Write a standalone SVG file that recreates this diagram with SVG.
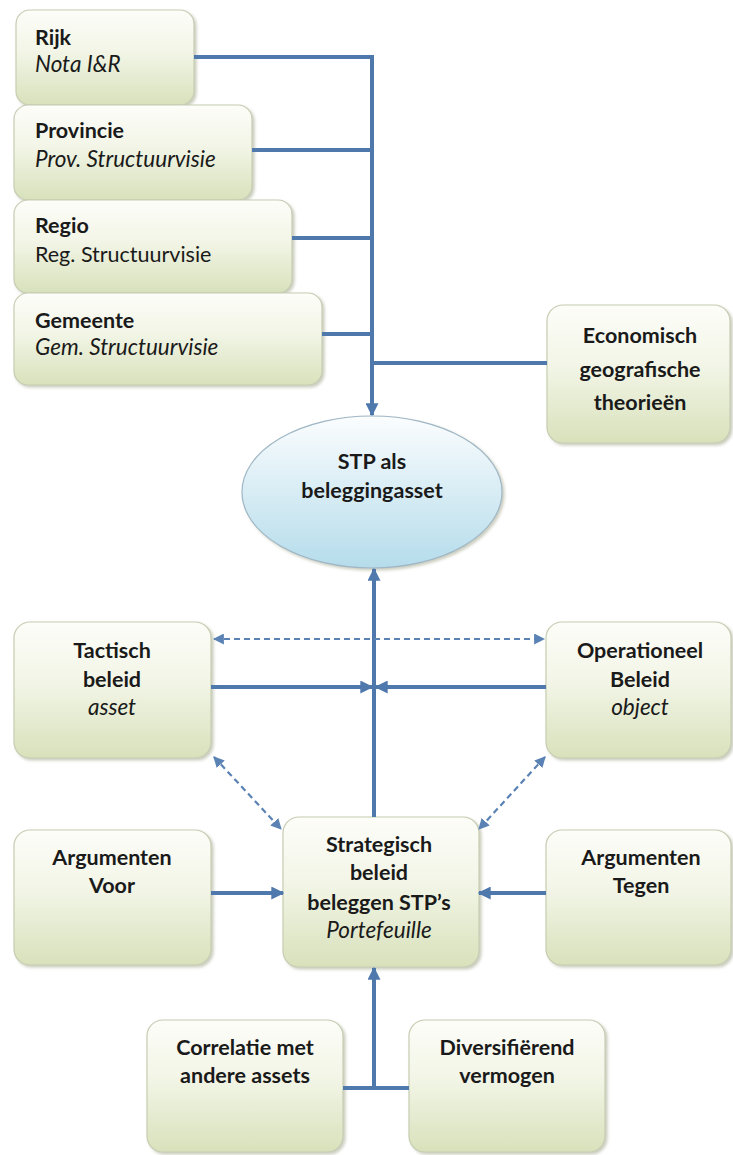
<svg xmlns="http://www.w3.org/2000/svg" width="733" height="1155" viewBox="0 0 733 1155">
<defs>
<linearGradient id="gBox" x1="0" y1="0" x2="0" y2="1">
<stop offset="0" stop-color="#fdfdf9"/>
<stop offset="0.45" stop-color="#f2f5e6"/>
<stop offset="1" stop-color="#d8e1bb"/>
</linearGradient>
<linearGradient id="gEll" x1="0" y1="0" x2="0" y2="1">
<stop offset="0" stop-color="#fbfdfe"/>
<stop offset="1" stop-color="#b5dceb"/>
</linearGradient>
<filter id="sh" x="-10%" y="-10%" width="125%" height="125%">
<feDropShadow dx="2" dy="2" stdDeviation="1.5" flood-color="#8a9070" flood-opacity="0.45"/>
</filter>
<marker id="ah" viewBox="0 0 10 10" refX="9" refY="5" markerUnits="userSpaceOnUse" markerWidth="13" markerHeight="13" orient="auto-start-reverse">
<path d="M0,0 L10,5 L0,10 z" fill="#4f78ad"/>
</marker>
<marker id="ahs" viewBox="0 0 10 10" refX="9" refY="5" markerUnits="userSpaceOnUse" markerWidth="11" markerHeight="11" orient="auto-start-reverse">
<path d="M0,0 L10,5 L0,10 z" fill="#5a82b5"/>
</marker>
</defs>
<style>
.box{fill:url(#gBox);stroke:#c6cdb3;stroke-width:1.2;filter:url(#sh)}
.ell{fill:url(#gEll);stroke:#9fb6c4;stroke-width:1.2;filter:url(#sh)}
text{font-family:Lato,"Liberation Sans",sans-serif;font-size:21.5px;fill:#1a1a1a}
.b{font-weight:bold}
.i{font-style:italic;font-size:22.5px}
.c{text-anchor:middle}
.ln{fill:none;stroke:#4f78ad;stroke-width:4}
.ln2{fill:none;stroke:#4f78ad;stroke-width:4;marker-end:url(#ah)}
.ds{fill:none;stroke:#5a82b5;stroke-width:2.2;stroke-dasharray:6 4;marker-start:url(#ahs);marker-end:url(#ahs)}
</style>
<rect width="733" height="1155" fill="#ffffff"/>

<g id="rijk">
<rect class="box" x="16" y="10" width="178" height="95" rx="14"/>
<text class="b" x="35" y="45">Rijk</text>
<text class="i" x="35" y="72">Nota I&amp;R</text>
</g>
<g id="provincie">
<rect class="box" x="14" y="105" width="238" height="95" rx="14"/>
<text class="b" x="35" y="138">Provincie</text>
<text class="i" x="35" y="167">Prov. Structuurvisie</text>
</g>
<g id="regio">
<rect class="box" x="14" y="200" width="278" height="93" rx="14"/>
<text class="b" x="35" y="233">Regio</text>
<text x="35" y="262">Reg. Structuurvisie</text>
</g>
<g id="gemeente">
<rect class="box" x="14" y="293" width="308" height="92" rx="14"/>
<text class="b" x="35" y="328">Gemeente</text>
<text class="i" x="35" y="355">Gem. Structuurvisie</text>
</g>
<g id="economisch">
<rect class="box" x="547" y="305" width="183" height="138" rx="16"/>
<text class="b c" x="640" y="343">Economisch</text>
<text class="b c" x="640" y="377">geografische</text>
<text class="b c" x="640" y="410">theorieën</text>
</g>
<g id="stp">
<ellipse class="ell" cx="372" cy="492" rx="130" ry="76"/>
<text class="b c" x="372" y="469">STP als</text>
<text class="b c" x="372" y="498">beleggingasset</text>
</g>
<g id="tactisch">
<rect class="box" x="14" y="622" width="197" height="136" rx="16"/>
<text class="b c" x="112" y="658">Tactisch</text>
<text class="b c" x="112" y="687">beleid</text>
<text class="i c" x="112" y="715">asset</text>
</g>
<g id="operationeel">
<rect class="box" x="546" y="622" width="185" height="136" rx="16"/>
<text class="b c" x="640" y="658">Operationeel</text>
<text class="b c" x="640" y="687">Beleid</text>
<text class="i c" x="640" y="715">object</text>
</g>
<g id="voor">
<rect class="box" x="14" y="830" width="197" height="135" rx="16"/>
<text class="b c" x="112" y="865">Argumenten</text>
<text class="b c" x="112" y="893">Voor</text>
</g>
<g id="strategisch">
<rect class="box" x="283" y="817" width="196" height="150" rx="16"/>
<text class="b c" x="379" y="852">Strategisch</text>
<text class="b c" x="379" y="880">beleid</text>
<text class="b c" x="379" y="910">beleggen STP’s</text>
<text class="i c" x="379" y="938">Portefeuille</text>
</g>
<g id="tegen">
<rect class="box" x="546" y="830" width="185" height="135" rx="16"/>
<text class="b c" x="641" y="865">Argumenten</text>
<text class="b c" x="641" y="893">Tegen</text>
</g>
<g id="correlatie">
<rect class="box" x="147" y="1020" width="196" height="132" rx="16"/>
<text class="b c" x="245" y="1055">Correlatie met</text>
<text class="b c" x="245" y="1083">andere assets</text>
</g>
<g id="diversifierend">
<rect class="box" x="409" y="1020" width="196" height="132" rx="16"/>
<text class="b c" x="507" y="1055">Diversifiërend</text>
<text class="b c" x="507" y="1083">vermogen</text>
</g>

<g id="connectors">
<path class="ln" d="M194 57 H372 M252 150 H372 M292 238 H372 M322 334 H372 M547 363 H372"/>
<path class="ln2" d="M372 55 V415"/>
<path class="ln2" d="M374 817 V569"/>
<path class="ln2" d="M211 687 H372"/>
<path class="ln2" d="M546 687 H376"/>
<path class="ds" d="M214 639 H544"/>
<path class="ds" d="M214 757 L281 829"/>
<path class="ds" d="M545 757 L479 829"/>
<path class="ln2" d="M211 893 H283"/>
<path class="ln2" d="M546 893 H479"/>
<path class="ln" d="M343 1088 H409"/>
<path class="ln2" d="M374 1090 V968"/>
</g>
</svg>
